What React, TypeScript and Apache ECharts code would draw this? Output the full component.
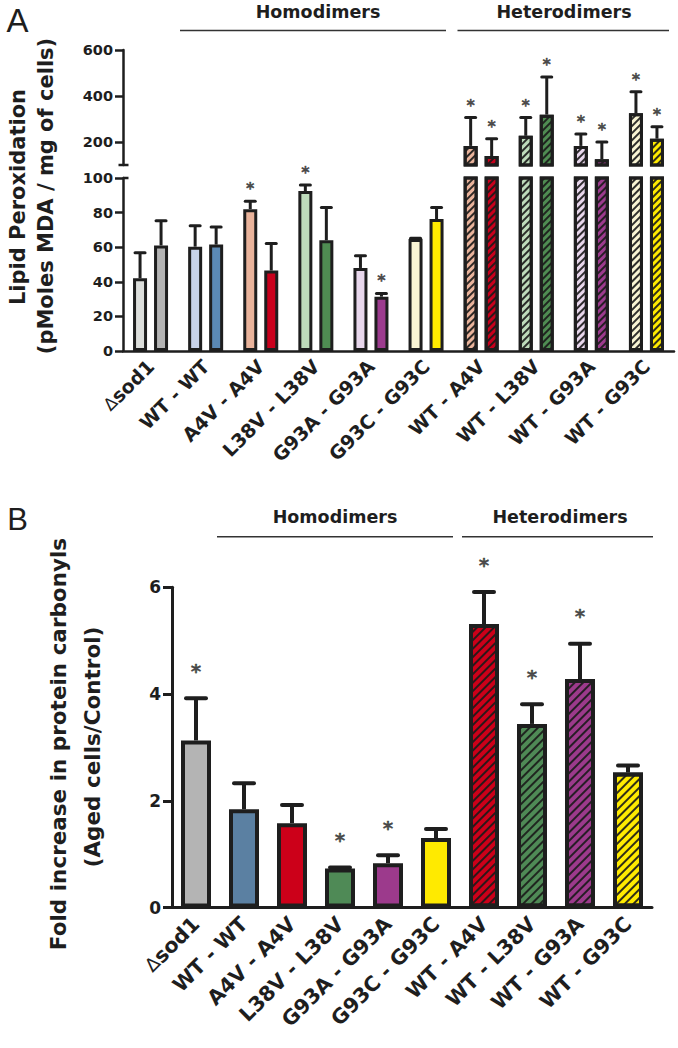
import React, { useEffect, useRef } from 'react';
import * as echarts from 'echarts';

// ---------- data ----------
const categories = ['Δsod1', 'WT - WT', 'A4V - A4V', 'L38V - L38V', 'G93A - G93A', 'G93C - G93C', 'WT - A4V', 'WT - L38V', 'WT - G93A', 'WT - G93C'];
const heteroFrom = 6;

// Panel A: lipid peroxidation (pMoles MDA / mg of cells), two bars per group
const lipidFirst = [42, 60.3, 82, 92.5, 48, 64.7, 183, 227, 183, 325];
const lipidFirstSem = [14.8, 12.1, 4.5, 3.5, 7, 0.5, 123, 79, 52, 94];
const lipidFirstSig = [0, 0, 1, 1, 0, 0, 1, 1, 1, 1];
const lipidSecond = [61, 61.5, 46.5, 64, 31.4, 76.3, 139, 319, 125, 214.5];
const lipidSecondSem = [14.3, 10.2, 15.7, 19, 1.9, 6.7, 75, 164, 75, 52];
const lipidSecondSig = [0, 0, 0, 0, 1, 0, 1, 1, 1, 1];

// Panel B: fold increase in protein carbonyls
const carbonyl = [3.13, 1.84, 1.58, 0.73, 0.83, 1.3, 5.31, 3.44, 4.28, 2.53];
const carbonylSem = [0.79, 0.49, 0.34, 0.02, 0.15, 0.17, 0.6, 0.37, 0.66, 0.13];
const carbonylSig = [1, 0, 0, 1, 1, 0, 1, 1, 1, 0];

const lipidLowTicks = [0, 20, 40, 60, 80, 100];
const lipidHighTicks = [200, 400, 600];
const carbonylTicks = [0, 2, 4, 6];

// ---------- styles ----------
const INK = '#1e1e1e';
const FONT = '"DejaVu Sans", sans-serif';
const lightColors = ['#dcdedb', '#c8d3ea', '#e9b39b', '#bedbbb', '#e8d7ec', '#f9f5d4', '#e9b39b', '#bedbbb', '#e8d7ec', '#f9f5d4'];
const darkColors = ['#b4b4b4', '#5b89b4', '#c9001c', '#4f8c52', '#9c3b8e', '#ffeb00', '#c9001c', '#4f8c52', '#9c3b8e', '#ffeb00'];
const bColors = ['#b4b4b4', '#5b80a2', '#cc0019', '#4f8a56', '#9c3a8c', '#ffea00', '#cc0019', '#4f8a56', '#9c3a8c', '#ffea00'];

// layout
const A_LEFT = 123, A_W = 551;
const A_LOW_TOP = 178, A_LOW_BOT = 351;
const A_UP_TOP = 50, A_UP_BOT = 165;
const B_LEFT = 172, B_W = 480, B_TOP = 587.3, B_BOT = 907.5;

const hatchA = { symbol: 'rect', symbolSize: 1, dashArrayX: [1, 0], dashArrayY: [2, 3], rotation: -Math.PI / 4, color: 'rgba(25,25,25,0.9)' };
const hatchB = { symbol: 'rect', symbolSize: 1, dashArrayX: [1, 0], dashArrayY: [2, 3.8], rotation: -Math.PI / 4, color: 'rgba(25,25,25,0.9)' };

function barItems(vals: number[], colors: string[], hatch: any, onlyHetero = false) {
  return vals.map((v, i) => {
    if (onlyHetero && i < heteroFrom) return '-';
    const itemStyle: any = { color: colors[i] };
    if (i >= heteroFrom) itemStyle.decal = hatch;
    return { value: v, itemStyle };
  });
}

function errSeries(xi: number, yi: number, vals: number[], sems: number[], opts: any) {
  return {
    type: 'custom',
    xAxisIndex: xi,
    yAxisIndex: yi,
    z: 5,
    silent: true,
    itemStyle: { color: INK },
    encode: { x: 0, y: 1 },
    data: vals.map((v, i) => [i, v, sems[i]]),
    renderItem: (params: any, api: any) => {
      const i = api.value(0), v = api.value(1), e = api.value(2);
      if (v < opts.lo || v > opts.hi) return null;
      const base = api.coord([i, v]);
      const top = api.coord([i, v + e]);
      const x = base[0] + opts.offset;
      return {
        type: 'group',
        children: [
          { type: 'line', shape: { x1: x, y1: base[1], x2: x, y2: top[1] }, style: { stroke: INK, lineWidth: opts.lw } },
          { type: 'line', shape: { x1: x - opts.cap / 2, y1: top[1], x2: x + opts.cap / 2, y2: top[1] }, style: { stroke: INK, lineWidth: opts.lw, lineCap: 'round' } },
        ],
      };
    },
  };
}

function starSeries(xi: number, yi: number, vals: number[], sems: number[], sigs: number[], opts: any) {
  return {
    type: 'scatter',
    xAxisIndex: xi,
    yAxisIndex: yi,
    z: 6,
    silent: true,
    clip: false,
    symbol: 'circle',
    symbolSize: 1,
    itemStyle: { color: 'rgba(0,0,0,0)' },
    label: {
      show: true,
      position: 'top',
      distance: opts.distance,
      offset: [opts.offset, 0],
      formatter: '*',
      color: INK,
      fontFamily: FONT,
      fontSize: opts.size,
      fontWeight: 'bold',
      textBorderColor: INK,
      textBorderWidth: 0.4,
    },
    data: vals.map((v, i) => (sigs[i] && v >= opts.lo && v <= opts.hi ? [i, v + sems[i]] : [i, '-'])),
  };
}

const axisLabelBase = { color: INK, fontFamily: FONT, fontWeight: 'bold' as const };

export default function App() {
  const ref = useRef<HTMLDivElement>(null);
  useEffect(() => {
    if (!ref.current) return;
    const chart = echarts.init(ref.current, undefined, { renderer: 'svg' });
    const catLabel = (fs: number, margin: number) => ({
      ...axisLabelBase,
      fontSize: fs,
      rotate: 45,
      interval: 0,
      margin,
      formatter: (v: string) => (v.startsWith('Δ') ? '{d|Δ}' + v.slice(1) : v),
      rich: { d: { fontFamily: FONT, fontWeight: 'normal', fontSize: fs - 2, color: INK } },
    });
    const barW_A = 14;
    const offA = barW_A * 0.75;
    const eA = { lw: 3, cap: 10 };
    const sA = { distance: 4, size: 16 };
    const option: any = {
      animation: false,
      backgroundColor: '#ffffff',
      grid: [
        { left: A_LEFT, top: A_LOW_TOP, width: A_W, height: A_LOW_BOT - A_LOW_TOP },
        { left: A_LEFT, top: A_UP_TOP, width: A_W, height: A_UP_BOT - A_UP_TOP },
        { left: B_LEFT, top: B_TOP, width: B_W, height: B_BOT - B_TOP },
      ],
      xAxis: [
        {
          type: 'category', gridIndex: 0, data: categories,
          axisLine: { lineStyle: { color: INK, width: 2.5 } },
          axisTick: { alignWithLabel: true, length: 7, lineStyle: { color: INK, width: 2.5 } },
          axisLabel: catLabel(19, 12),
        },
        { type: 'category', gridIndex: 1, data: categories, show: false },
        {
          type: 'category', gridIndex: 2, data: categories,
          axisLine: { lineStyle: { color: INK, width: 3 } },
          axisTick: { alignWithLabel: true, length: 8, lineStyle: { color: INK, width: 3 } },
          axisLabel: catLabel(20.5, 13),
        },
      ],
      yAxis: [
        {
          type: 'value', gridIndex: 0, min: lipidLowTicks[0], max: lipidLowTicks[lipidLowTicks.length - 1], interval: 20,
          axisLine: { show: true, lineStyle: { color: INK, width: 2.5 } },
          axisTick: { show: true, length: 8, lineStyle: { color: INK, width: 2.5 } },
          axisLabel: { ...axisLabelBase, fontSize: 14.5, margin: 10 },
          splitLine: { show: false },
        },
        {
          type: 'value', gridIndex: 1, min: 100, max: lipidHighTicks[lipidHighTicks.length - 1],
          axisLine: { show: true, lineStyle: { color: INK, width: 2.5 } },
          axisTick: { show: true, length: 8, customValues: lipidHighTicks, lineStyle: { color: INK, width: 2.5 } },
          axisLabel: { ...axisLabelBase, fontSize: 14.5, margin: 10, customValues: lipidHighTicks },
          splitLine: { show: false },
        },
        {
          type: 'value', gridIndex: 2, min: carbonylTicks[0], max: carbonylTicks[carbonylTicks.length - 1], interval: 2,
          axisLine: { show: true, lineStyle: { color: INK, width: 3 } },
          axisTick: { show: true, length: 9, lineStyle: { color: INK, width: 3 } },
          axisLabel: { ...axisLabelBase, fontSize: 17, margin: 11 },
          splitLine: { show: false },
        },
      ],
      series: [
        // Panel A lower segment
        { type: 'bar', xAxisIndex: 0, yAxisIndex: 0, barWidth: barW_A, barGap: '50%', clip: true,
          itemStyle: { borderColor: INK, borderWidth: 3 }, data: barItems(lipidFirst, lightColors, hatchA) },
        { type: 'bar', xAxisIndex: 0, yAxisIndex: 0, barWidth: barW_A, barGap: '50%', clip: true,
          itemStyle: { borderColor: INK, borderWidth: 3 }, data: barItems(lipidSecond, darkColors, hatchA) },
        // Panel A upper segment
        { type: 'bar', xAxisIndex: 1, yAxisIndex: 1, barWidth: barW_A, barGap: '50%', clip: true,
          itemStyle: { borderColor: INK, borderWidth: 3 }, data: barItems(lipidFirst, lightColors, hatchA, true) },
        { type: 'bar', xAxisIndex: 1, yAxisIndex: 1, barWidth: barW_A, barGap: '50%', clip: true,
          itemStyle: { borderColor: INK, borderWidth: 3 }, data: barItems(lipidSecond, darkColors, hatchA, true) },
        errSeries(0, 0, lipidFirst, lipidFirstSem, { lo: 0, hi: 100, offset: -offA, ...eA }),
        errSeries(0, 0, lipidSecond, lipidSecondSem, { lo: 0, hi: 100, offset: offA, ...eA }),
        errSeries(1, 1, lipidFirst, lipidFirstSem, { lo: 100.001, hi: 1e9, offset: -offA, ...eA }),
        errSeries(1, 1, lipidSecond, lipidSecondSem, { lo: 100.001, hi: 1e9, offset: offA, ...eA }),
        starSeries(0, 0, lipidFirst, lipidFirstSem, lipidFirstSig, { lo: 0, hi: 100, offset: -offA, ...sA }),
        starSeries(0, 0, lipidSecond, lipidSecondSem, lipidSecondSig, { lo: 0, hi: 100, offset: offA, ...sA }),
        starSeries(1, 1, lipidFirst, lipidFirstSem, lipidFirstSig, { lo: 100.001, hi: 1e9, offset: -offA, ...sA }),
        starSeries(1, 1, lipidSecond, lipidSecondSem, lipidSecondSig, { lo: 100.001, hi: 1e9, offset: offA, ...sA }),
        // Panel B
        { type: 'bar', xAxisIndex: 2, yAxisIndex: 2, barWidth: 30,
          itemStyle: { borderColor: INK, borderWidth: 4 }, data: barItems(carbonyl, bColors, hatchB) },
        errSeries(2, 2, carbonyl, carbonylSem, { lo: 0, hi: 1e9, offset: 0, lw: 4, cap: 20 }),
        starSeries(2, 2, carbonyl, carbonylSem, carbonylSig, { lo: 0, hi: 1e9, offset: 0, distance: 17, size: 20 }),
      ],
      graphic: [
        { type: 'text', x: 17.5, y: 20, style: { text: 'A', font: '33px "Liberation Sans", Arial, sans-serif', fill: INK, align: 'center', verticalAlign: 'middle' } },
        { type: 'text', x: 17.5, y: 519, style: { text: 'B', font: '31px "Liberation Sans", Arial, sans-serif', fill: INK, align: 'center', verticalAlign: 'middle' } },
        // group headers panel A
        { type: 'text', x: 318, y: 12, style: { text: 'Homodimers', font: `bold 17.5px ${FONT}`, fill: INK, align: 'center', verticalAlign: 'middle' } },
        { type: 'line', shape: { x1: 180, y1: 30.5, x2: 446, y2: 30.5 }, style: { stroke: '#333', lineWidth: 1.6 } },
        { type: 'text', x: 564, y: 12, style: { text: 'Heterodimers', font: `bold 17.5px ${FONT}`, fill: INK, align: 'center', verticalAlign: 'middle' } },
        { type: 'line', shape: { x1: 457.5, y1: 30.5, x2: 669, y2: 30.5 }, style: { stroke: '#333', lineWidth: 1.6 } },
        // group headers panel B
        { type: 'text', x: 335, y: 517, style: { text: 'Homodimers', font: `bold 17.5px ${FONT}`, fill: INK, align: 'center', verticalAlign: 'middle' } },
        { type: 'line', shape: { x1: 217, y1: 536.7, x2: 453, y2: 536.7 }, style: { stroke: '#333', lineWidth: 1.6 } },
        { type: 'text', x: 560, y: 517, style: { text: 'Heterodimers', font: `bold 17.5px ${FONT}`, fill: INK, align: 'center', verticalAlign: 'middle' } },
        { type: 'line', shape: { x1: 462, y1: 536.7, x2: 653, y2: 536.7 }, style: { stroke: '#333', lineWidth: 1.6 } },
        // axis titles
        { type: 'text', x: 18, y: 197, rotation: Math.PI / 2, style: { text: 'Lipid Peroxidation', font: `bold 21px ${FONT}`, fill: INK, align: 'center', verticalAlign: 'middle' } },
        { type: 'text', x: 46, y: 196, rotation: Math.PI / 2, style: { text: '(pMoles MDA / mg of cells)', font: `bold 21px ${FONT}`, fill: INK, align: 'center', verticalAlign: 'middle' } },
        { type: 'text', x: 58, y: 744, rotation: Math.PI / 2, style: { text: 'Fold increase in protein carbonyls', font: `bold 21.5px ${FONT}`, fill: INK, align: 'center', verticalAlign: 'middle' } },
        { type: 'text', x: 92, y: 747, rotation: Math.PI / 2, style: { text: '(Aged cells/Control)', font: `bold 21.5px ${FONT}`, fill: INK, align: 'center', verticalAlign: 'middle' } },
        // axis break marks
        { type: 'line', shape: { x1: 118.5, y1: A_UP_BOT, x2: 128.5, y2: A_UP_BOT }, style: { stroke: INK, lineWidth: 2.5 } },
        { type: 'line', shape: { x1: A_LEFT, y1: A_LOW_TOP, x2: 128.5, y2: A_LOW_TOP }, style: { stroke: INK, lineWidth: 2.5 } },
      ],
    };
    chart.setOption(option);
    return () => chart.dispose();
  }, []);
  return <div ref={ref} style={{ position: 'absolute', left: 0, top: 0, width: 678, height: 1048, background: '#fff' }} />;
}
